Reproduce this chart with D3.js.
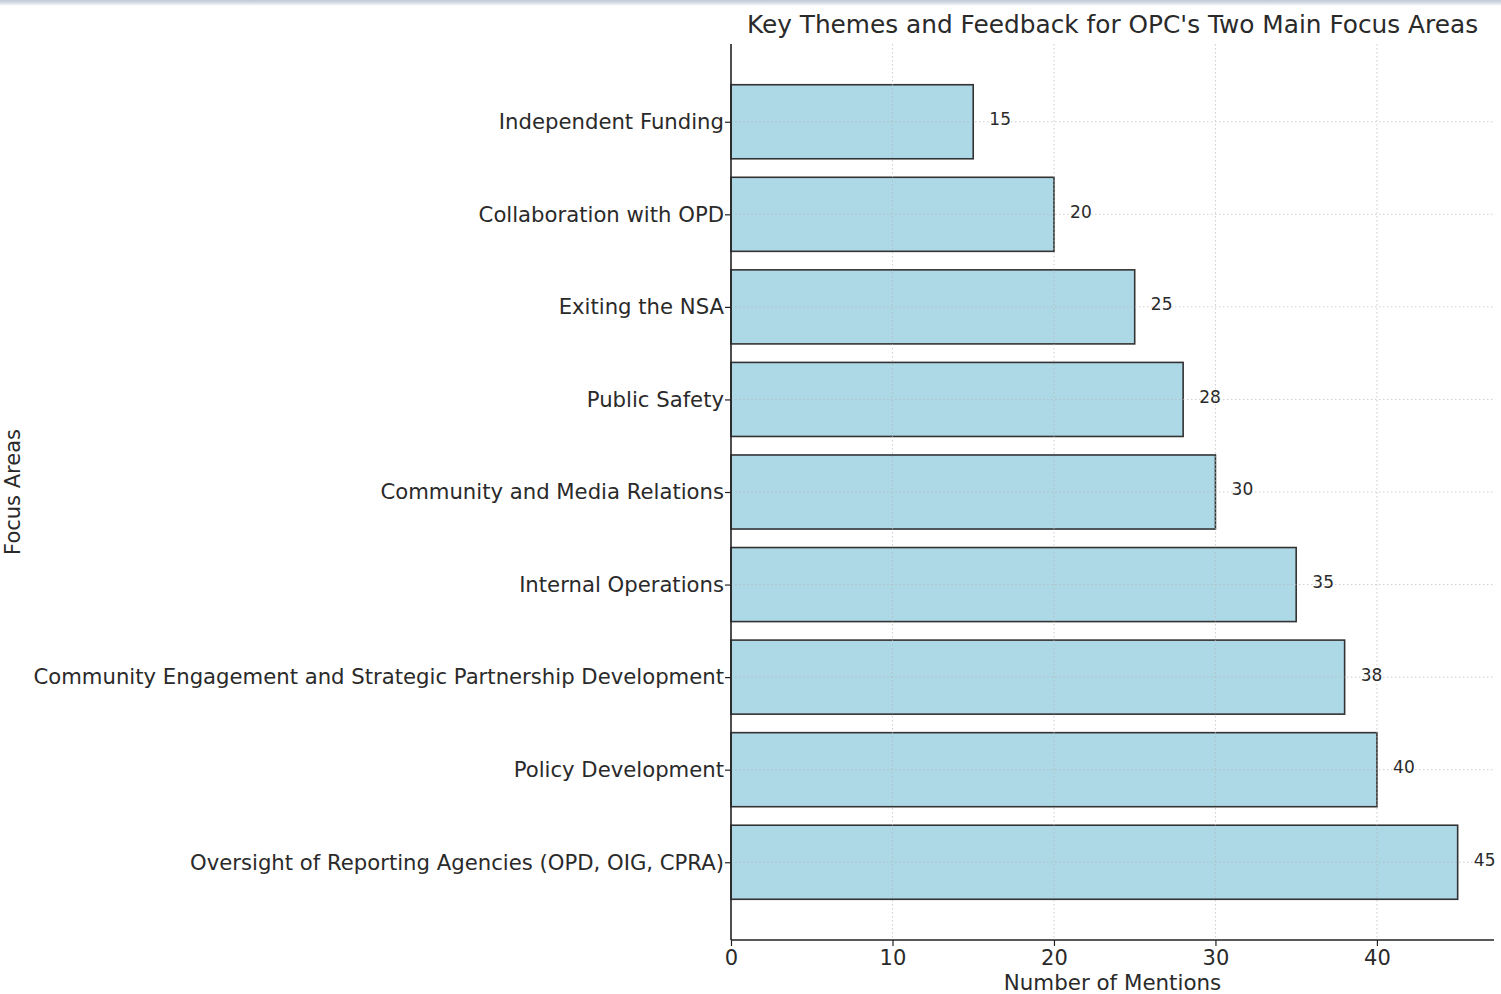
<!DOCTYPE html>
<html>
<head>
<meta charset="utf-8">
<script src="https://cdn.jsdelivr.net/npm/d3@7"></script>
<style>
  html, body { margin: 0; padding: 0; background: #fff; }
  svg { display: block; }
  text { font-family: "DejaVu Sans", sans-serif; fill: #2a2a2a; }
</style>
</head>
<body>
<svg id="chart" width="1501" height="994"></svg>
<script>
// Focus areas, listed bottom to top as drawn
const categories = [
  "Oversight of Reporting Agencies (OPD, OIG, CPRA)",
  "Policy Development",
  "Community Engagement and Strategic Partnership Development",
  "Internal Operations",
  "Community and Media Relations",
  "Public Safety",
  "Exiting the NSA",
  "Collaboration with OPD",
  "Independent Funding"
];
const mentions = [45, 40, 38, 35, 30, 28, 25, 20, 15];
const xTicks = [0, 10, 20, 30, 40];

const titleText = "Key Themes and Feedback for OPC's Two Main Focus Areas";
const xLabel = "Number of Mentions";
const yLabel = "Focus Areas";

const svg = d3.select("#chart");
const W = 1501, H = 994;
const plot = { left: 731, right: 1494, top: 44, bottom: 940 };

// thin window edge along the top
const grad = svg.append("defs").append("linearGradient")
  .attr("id", "edge").attr("x1", 0).attr("x2", 0).attr("y1", 0).attr("y2", 1);
grad.append("stop").attr("offset", "0%").attr("stop-color", "#bfc8d4");
grad.append("stop").attr("offset", "45%").attr("stop-color", "#d6dde6");
grad.append("stop").attr("offset", "100%").attr("stop-color", "#ffffff");
svg.append("rect").attr("x", 0).attr("y", 0).attr("width", W).attr("height", 6)
  .attr("fill", "url(#edge)");

const maxVal = d3.max(mentions);
const x = d3.scaleLinear().domain([0, maxVal * 1.05]).range([plot.left, plot.right]);
// bar positions are 0..n-1 with 0.8-wide bars and 5% padding
const n = categories.length;
const pad = (n - 1 + 0.8) * 0.05;
const y = d3.scaleLinear().domain([-0.4 - pad, n - 1 + 0.4 + pad]).range([plot.bottom, plot.top]);
const barH = y(0) - y(0.8);

// bars
svg.append("g").selectAll("rect").data(mentions).join("rect")
  .attr("x", x(0))
  .attr("y", (d, i) => y(i + 0.4))
  .attr("width", d => x(d) - x(0))
  .attr("height", barH)
  .attr("fill", "#add8e6")
  .attr("stroke", "#333")
  .attr("stroke-width", 1.6);

// dotted grid drawn over the bars
const grid = svg.append("g").attr("stroke", "#b8b8b8").attr("stroke-width", 0.9)
  .attr("stroke-dasharray", "1.5,2.5").attr("opacity", 0.75);
grid.selectAll("line.v").data(xTicks.slice(1)).join("line").attr("class", "v")
  .attr("x1", d => x(d)).attr("x2", d => x(d))
  .attr("y1", plot.top).attr("y2", plot.bottom);
grid.selectAll("line.h").data(d3.range(n)).join("line").attr("class", "h")
  .attr("x1", plot.left).attr("x2", plot.right)
  .attr("y1", d => y(d)).attr("y2", d => y(d));

// value labels
svg.append("g").selectAll("text").data(mentions).join("text")
  .attr("x", d => x(d + 1))
  .attr("y", (d, i) => y(i))
  .attr("dy", "0.2em")
  .attr("font-size", 17)
  .attr("fill", "#3a3a3a")
  .text(d => d);

// x axis
const xAxis = d3.axisBottom(x).tickValues(xTicks).tickSize(6).tickPadding(4).tickFormat(d3.format("d"));
const gx = svg.append("g").attr("transform", `translate(0,${plot.bottom})`).call(xAxis);
gx.select(".domain").attr("stroke", "#222").attr("stroke-width", 1.6)
  .attr("d", `M${plot.left},0H${plot.right}`);
gx.selectAll(".tick line").attr("stroke", "#222").attr("stroke-width", 1.2);
gx.selectAll(".tick text").attr("font-size", 21).attr("fill", "#2a2a2a")
  .attr("font-family", "DejaVu Sans, sans-serif");

// y axis
const yAxis = d3.axisLeft(y).tickValues(d3.range(n)).tickSize(6).tickPadding(1)
  .tickFormat(i => categories[i]);
const gy = svg.append("g").attr("transform", `translate(${plot.left},0)`).call(yAxis);
gy.select(".domain").attr("stroke", "#222").attr("stroke-width", 1.6)
  .attr("d", `M0,${plot.top}V${plot.bottom}`);
gy.selectAll(".tick line").attr("stroke", "#222").attr("stroke-width", 1.2);
gy.selectAll(".tick text").attr("font-size", 21.2).attr("fill", "#2a2a2a")
  .attr("font-family", "DejaVu Sans, sans-serif");

// title and axis labels
svg.append("text").attr("x", (plot.left + plot.right) / 2).attr("y", 33)
  .attr("text-anchor", "middle").attr("font-size", 24.8).text(titleText);
svg.append("text").attr("x", (plot.left + plot.right) / 2).attr("y", 990)
  .attr("text-anchor", "middle").attr("font-size", 21.4).text(xLabel);
svg.append("text")
  .attr("transform", `translate(20,${(plot.top + plot.bottom) / 2}) rotate(-90)`)
  .attr("text-anchor", "middle").attr("font-size", 21).text(yLabel);
</script>
</body>
</html>
